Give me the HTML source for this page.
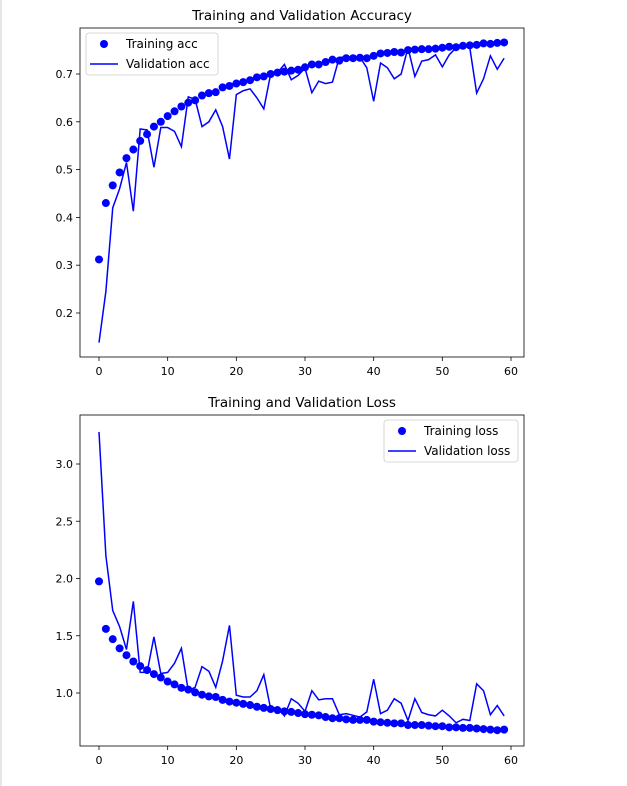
<!DOCTYPE html>
<html><head><meta charset="utf-8"><style>
body{margin:0;background:#fff;}
svg{display:block;font-family:"DejaVu Sans","Liberation Sans",sans-serif;}
</style></head><body>
<svg id="chart" width="627" height="786" viewBox="0 0 627 786" xmlns="http://www.w3.org/2000/svg">
<line x1="1" y1="0" x2="1" y2="786" stroke="#e6e6e6" stroke-width="2"/>
</svg>
<script>
const epochs = Array.from({length:60},(_,i)=>i);
const trainAcc = [0.312,0.43,0.467,0.494,0.524,0.542,0.56,0.574,0.59,0.60,0.612,0.622,0.632,0.64,0.645,0.655,0.66,0.662,0.672,0.675,0.68,0.683,0.687,0.693,0.695,0.70,0.703,0.705,0.707,0.709,0.714,0.72,0.72,0.725,0.73,0.728,0.733,0.733,0.734,0.733,0.738,0.743,0.744,0.746,0.745,0.75,0.751,0.752,0.752,0.753,0.755,0.757,0.756,0.759,0.76,0.761,0.764,0.763,0.765,0.766];
const valAcc = [0.138,0.245,0.42,0.46,0.515,0.413,0.585,0.583,0.505,0.588,0.588,0.58,0.548,0.652,0.647,0.59,0.60,0.625,0.59,0.522,0.657,0.665,0.669,0.65,0.627,0.70,0.703,0.72,0.688,0.697,0.712,0.661,0.685,0.68,0.683,0.735,0.735,0.735,0.735,0.713,0.643,0.723,0.713,0.69,0.70,0.755,0.695,0.727,0.73,0.74,0.715,0.74,0.755,0.76,0.755,0.66,0.69,0.738,0.71,0.733];
const trainLoss = [1.975,1.56,1.47,1.39,1.33,1.275,1.235,1.20,1.165,1.135,1.10,1.075,1.045,1.03,1.005,0.985,0.97,0.965,0.94,0.925,0.915,0.905,0.895,0.88,0.87,0.86,0.85,0.84,0.835,0.825,0.815,0.81,0.805,0.79,0.78,0.78,0.77,0.765,0.765,0.765,0.75,0.745,0.74,0.735,0.735,0.72,0.72,0.72,0.715,0.71,0.71,0.70,0.70,0.695,0.695,0.69,0.685,0.68,0.675,0.68];
const valLoss = [3.28,2.2,1.72,1.58,1.38,1.8,1.18,1.18,1.49,1.17,1.18,1.26,1.39,1.02,1.05,1.23,1.19,1.05,1.28,1.59,0.98,0.965,0.965,1.02,1.16,0.86,0.88,0.80,0.95,0.91,0.84,1.02,0.94,0.95,0.95,0.81,0.82,0.805,0.79,0.835,1.12,0.82,0.85,0.95,0.91,0.76,0.95,0.83,0.81,0.80,0.85,0.80,0.74,0.77,0.76,1.08,1.02,0.81,0.89,0.80];
const xTicks = [0,10,20,30,40,50,60];
const accTicks = [0.2,0.3,0.4,0.5,0.6,0.7];
const lossTicks = [1.0,1.5,2.0,2.5,3.0];

const NS="http://www.w3.org/2000/svg";
const svg=document.getElementById('chart');
function mk(tag,attrs,parent){const e=document.createElementNS(NS,tag);for(const k in attrs)e.setAttribute(k,attrs[k]);(parent||svg).appendChild(e);return e;}

function panel(cfg){
  const g=mk('g',{});
  
  
  const L=80,R=524,T=cfg.top,B=cfg.bottom;
  const xs=v=>99+(v)*(511-99)/60;
  const ys=v=>cfg.y0px+(v-cfg.y0)*(cfg.y1px-cfg.y0px)/(cfg.y1-cfg.y0);
  const t=mk('text',{x:(L+R)/2,y:T-8,'text-anchor':'middle','font-size':13.5,fill:'#000'},g);
  t.textContent=cfg.title;
  
  
  xTicks.forEach(v=>{
    mk('line',{x1:xs(v),x2:xs(v),y1:B,y2:B+4,stroke:'#000','stroke-width':0.8},g);
    const tx=mk('text',{x:xs(v),y:B+18,'text-anchor':'middle','font-size':11},g);
    tx.textContent=v;
    
    
  });
  cfg.yTicks.forEach(v=>{
    mk('line',{x1:L-4,x2:L,y1:ys(v),y2:ys(v),stroke:'#000','stroke-width':0.8},g);
    const ty=mk('text',{x:L-7,y:ys(v)+4,'text-anchor':'end','font-size':11},g);
    ty.textContent=v.toFixed(1);
    
    
  });
  const pl=mk('polyline',{points:epochs.map(i=>xs(i)+','+ys(cfg.val[i])).join(' '),fill:'none',stroke:'#0000ff','stroke-width':1.5},g);
  
  
  epochs.forEach(i=>{
    const c=mk('circle',{cx:xs(i),cy:ys(cfg.train[i]),r:4,fill:'#0000ff'},g);
    
    
  });
  const fr=mk('rect',{x:L,y:T,width:R-L,height:B-T,fill:'none',stroke:'#000','stroke-width':0.8},g);
  
  
  const lg=mk('g',{},g);
  
  
  const lx=cfg.legX,ly=T+5,lw=cfg.legW;
  mk('rect',{x:lx,y:ly,width:lw,height:42,rx:3,fill:'#fff',stroke:'#ccc','stroke-width':0.8},lg);
  mk('circle',{cx:lx+18,cy:ly+11,r:4,fill:'#0000ff'},lg);
  mk('line',{x1:lx+4,x2:lx+32,y1:ly+31,y2:ly+31,stroke:'#0000ff','stroke-width':1.5},lg);
  const a=mk('text',{x:lx+40,y:ly+15,'font-size':12},lg);a.textContent=cfg.legA;
  
  
  const b=mk('text',{x:lx+40,y:ly+35,'font-size':12},lg);b.textContent=cfg.legB;
  
  
}
panel({name:'accuracy-chart',title:'Training and Validation Accuracy',top:28,bottom:357,y0:0.2,y0px:313,y1:0.7,y1px:74,yTicks:accTicks,train:trainAcc,val:valAcc,legX:86,legW:132,legA:'Training acc',legB:'Validation acc'});
panel({name:'loss-chart',title:'Training and Validation Loss',top:415,bottom:746,y0:1.0,y0px:693,y1:3.0,y1px:464,yTicks:lossTicks,train:trainLoss,val:valLoss,legX:384,legW:134,legA:'Training loss',legB:'Validation loss'});
</script>
</body></html>
